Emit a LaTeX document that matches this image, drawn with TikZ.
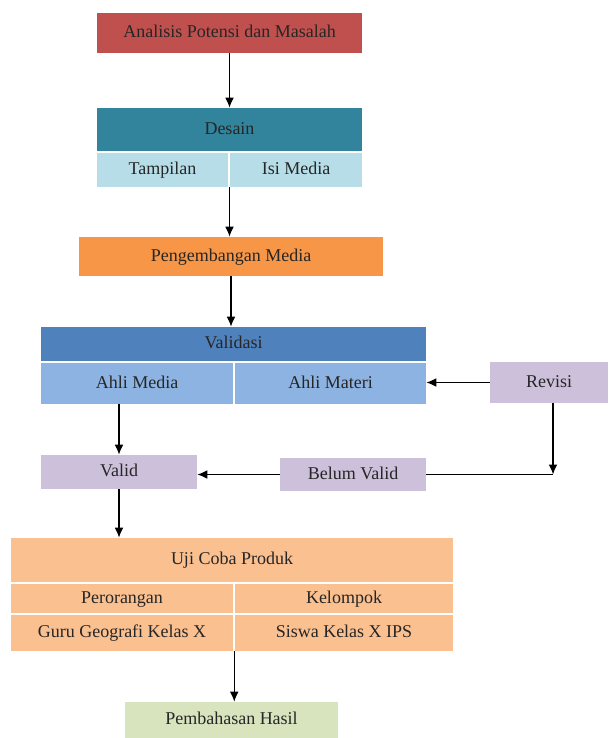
\documentclass[tikz,border=0pt]{standalone}
\usepackage{fontspec}
\setmainfont{Liberation Serif}
\usepackage{tikz}
\usetikzlibrary{arrows.meta,calc}

\definecolor{merah}{HTML}{C0504D}
\definecolor{tosca}{HTML}{31849B}
\definecolor{toscamuda}{HTML}{B7DEE8}
\definecolor{oranye}{HTML}{F79646}
\definecolor{biru}{HTML}{4F81BD}
\definecolor{birumuda}{HTML}{8DB3E2}
\definecolor{ungu}{HTML}{CCC0DA}
\definecolor{peach}{HTML}{FAC090}
\definecolor{hijau}{HTML}{D7E4BD}

\tikzset{
	kotak/.style={inner sep=0pt, text height=0.92em, text depth=0.2em,
		font=\fontsize{13.5}{16}\selectfont, text=black!85},
	panah/.style={-{Latex[length=7.5pt,width=6.5pt]}, line width=0.9pt},
	garis/.style={line width=0.9pt}
}

\begin{document}
\begin{tikzpicture}[x=0.75pt,y=-0.75pt]

	\newcommand{\Kotak}[7]{
		\node [kotak, fill=#6, minimum width={(#4-#2)*0.75pt}, minimum height={(#5-#3)*0.75pt}]
		(#1) at ({(#2+#4)/2},{(#3+#5)/2}) {#7};
	}

	\useasboundingbox (0,0) rectangle (608,738);

	\Kotak{analisis}{97}{13}{362}{53}{merah}{Analisis Potensi dan Masalah}
	\Kotak{desain}{97}{108}{362}{151}{tosca}{Desain}
	\Kotak{tampilan}{97}{153}{228}{187}{toscamuda}{Tampilan}
	\Kotak{isi}{230}{153}{362}{187}{toscamuda}{Isi Media}
	\Kotak{pengembangan}{79}{237}{383}{276}{oranye}{Pengembangan Media}
	\Kotak{validasi}{41}{327}{426}{361}{biru}{Validasi}
	\Kotak{ahlimedia}{41}{363}{233}{404}{birumuda}{Ahli Media}
	\Kotak{ahlimateri}{235}{363}{426}{404}{birumuda}{Ahli Materi}
	\Kotak{revisi}{490}{362}{608}{403}{ungu}{Revisi}
	\Kotak{valid}{41}{455}{197}{489}{ungu}{Valid}
	\Kotak{belum}{280}{458}{426}{491}{ungu}{Belum Valid}
	\Kotak{uji}{11}{538}{453}{582}{peach}{Uji Coba Produk}
	\Kotak{perorangan}{11}{584}{233}{613}{peach}{Perorangan}
	\Kotak{kelompok}{235}{584}{453}{613}{peach}{Kelompok}
	\Kotak{guru}{11}{615}{233}{651}{peach}{Guru Geografi Kelas X}
	\Kotak{siswa}{235}{615}{453}{651}{peach}{Siswa Kelas X IPS}
	\Kotak{hasil}{125}{702}{338}{738}{hijau}{Pembahasan Hasil}

	\coordinate (belok) at ($(revisi.south)+(4,0)$);
	\coordinate (pisah) at ($(guru.south east)+(1,0)$);

	\draw [panah] (analisis.south) -- (analisis.south |- desain.north);
	\draw [panah] (desain.center |- tampilan.south) -- (desain.center |- pengembangan.north);
	\draw [panah] (pengembangan.south) -- (pengembangan.south |- validasi.north);
	\draw [panah] (valid.north |- ahlimedia.south) -- (valid.north);
	\draw [panah] (revisi.west) -- (revisi.west -| ahlimateri.east);
	\draw [panah] (belok) -- (belok |- belum.east);
	\draw [garis] (belum.east) -- (belok |- belum.east);
	\draw [panah] (belum.west) -- (belum.west -| valid.east);
	\draw [panah] (valid.south) -- (valid.south |- uji.north);
	\draw [panah] (pisah) -- (pisah |- hasil.north);

\end{tikzpicture}
\end{document}
